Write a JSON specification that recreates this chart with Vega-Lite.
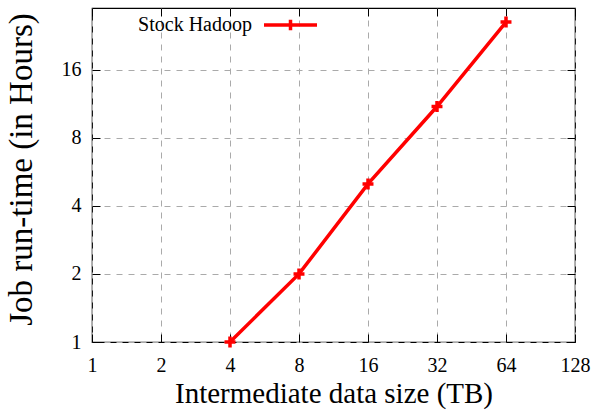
{
  "$schema": "https://vega.github.io/schema/vega-lite/v6.json",
  "width": 483,
  "height": 334,
  "autosize": "none",
  "padding": {"left": 92, "top": 8, "right": 18, "bottom": 70},
  "background": "white",
  "config": {
    "view": {"stroke": "black", "strokeWidth": 1.2},
    "font": "Liberation Serif",
    "axis": {
      "labelFont": "Liberation Serif",
      "titleFont": "Liberation Serif",
      "labelFontSize": 20,
      "titleFontSize": 29,
      "titleFontWeight": "normal",
      "labelColor": "black",
      "titleColor": "black",
      "domain": false,
      "tickColor": "black",
      "tickSize": -8,
      "tickWidth": 1,
      "gridColor": "#aaaaaa",
      "gridDash": [6, 6],
      "gridWidth": 1
    }
  },
  "data": {
    "values": [
      {"size": 4, "hours": 1, "series": "Stock Hadoop"},
      {"size": 8, "hours": 2, "series": "Stock Hadoop"},
      {"size": 16, "hours": 5, "series": "Stock Hadoop"},
      {"size": 32, "hours": 11, "series": "Stock Hadoop"},
      {"size": 64, "hours": 26, "series": "Stock Hadoop"}
    ]
  },
  "layer": [
    {
      "mark": {"type": "line", "strokeWidth": 3.5, "clip": false},
      "encoding": {
        "x": {
          "field": "size", "type": "quantitative",
          "scale": {"type": "log", "base": 2, "domain": [1, 128], "nice": false},
          "axis": {"orient": "bottom", "values": [1, 2, 4, 8, 16, 32, 64, 128], "title": "Intermediate data size (TB)", "labelPadding": 21, "titlePadding": 4, "labelFlush": false}
        },
        "y": {
          "field": "hours", "type": "quantitative",
          "scale": {"type": "log", "base": 2, "domain": [1, 30], "nice": false},
          "axis": {"orient": "left", "values": [1, 2, 4, 8, 16], "title": "Job run-time (in Hours)", "titleFontSize": 33, "labelPadding": 19, "titlePadding": 23, "titleY": 161}
        },
        "color": {
          "field": "series", "type": "nominal",
          "scale": {"range": ["#ff0000"]},
          "legend": {
            "title": null,
            "orient": "none",
            "legendX": 170,
            "legendY": -11.5,
            "padding": 0,
            "symbolType": "M-1,0L1,0M0,-0.2L0,0.2",
            "symbolSize": 2809,
            "symbolStrokeWidth": 3.5,
            "symbolFillColor": "transparent",
            "labelFont": "Liberation Serif",
            "labelFontSize": 20,
            "labelColor": "black",
            "labelAlign": "right",
            "labelOffset": -67
          }
        }
      }
    },
    {
      "mark": {"type": "point", "shape": "M-1,0L1,0M0,-1L0,1", "size": 120, "strokeWidth": 3.5, "filled": false, "color": "#ff0000", "opacity": 1, "clip": false},
      "encoding": {
        "x": {
          "field": "size", "type": "quantitative",
          "scale": {"type": "log", "base": 2, "domain": [1, 128], "nice": false},
          "axis": {"orient": "top", "values": [1, 2, 4, 8, 16, 32, 64, 128], "labels": false, "title": null, "grid": false}
        },
        "y": {
          "field": "hours", "type": "quantitative",
          "scale": {"type": "log", "base": 2, "domain": [1, 30], "nice": false},
          "axis": {"orient": "right", "values": [1, 2, 4, 8, 16], "labels": false, "title": null, "grid": false}
        }
      }
    }
  ],
  "resolve": {"axis": {"x": "independent", "y": "independent"}}
}
